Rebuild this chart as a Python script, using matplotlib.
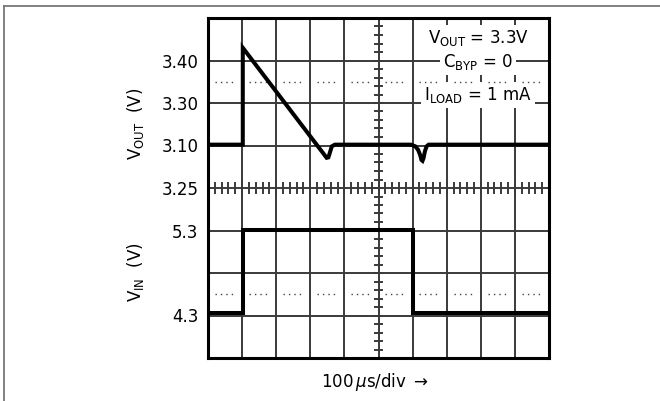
import numpy as np
import matplotlib
matplotlib.use('Agg')
import matplotlib.pyplot as plt
from matplotlib.lines import Line2D

# scope trace data, in divisions (x: 100 us/div, y: grid rows from bottom)
vout_t = [0, 1.02, 1.02, 3.48, 3.53, 3.57, 3.63, 3.72, 5.95, 6.08, 6.16, 6.22, 6.26, 6.29, 6.32, 6.36, 6.41, 6.47, 10]
vout_v = [5.02, 5.02, 7.30, 4.71, 4.72, 4.82, 4.98, 5.02, 5.02, 4.98, 4.90, 4.78, 4.66, 4.64, 4.70, 4.86, 4.98, 5.02, 5.02]
vin_t = [0, 1.02, 1.02, 6.02, 6.02, 10]
vin_v = [1.05, 1.05, 3.01, 3.01, 1.05, 1.05]

ytick_pos = [7, 6, 5, 4, 3, 1]
ytick_lab = ['3.40', '3.30', '3.10', '3.25', '5.3', '4.3']
dot_rows = [6.5, 1.5]

fig = plt.figure(figsize=(6.6, 4.01), dpi=100)
ax = fig.add_axes([208/660, (401-358)/401, 341/660, 340/401])
ax.set_xlim(0, 10)
ax.set_ylim(0, 8)

gc = '#3a3a3a'
for i in range(1, 10):
    ax.axvline(i, color=gc, lw=1.4, zorder=1)
for j in range(1, 8):
    ax.axhline(j, color=gc, lw=1.4, zorder=1)

# minor ticks on centre lines
for k in np.arange(0, 10.01, 0.2):
    ax.plot([k, k], [4 - 0.12, 4 + 0.12], color=gc, lw=1.4, zorder=1)
for k in np.arange(0, 8.01, 0.2):
    ax.plot([5 - 0.09, 5 + 0.09], [k, k], color=gc, lw=1.4, zorder=1)

# dotted reference rows
for r in dot_rows:
    for i in range(10):
        ax.plot([i + 0.2, i + 0.8], [r, r], color='#444444', lw=1.0,
                linestyle=(0, (1, 2.9)), zorder=4)

ax.plot(vout_t, vout_v, color='black', lw=2.9, zorder=5, solid_joinstyle='miter')
ax.plot(vin_t, vin_v, color='black', lw=2.9, zorder=5, solid_joinstyle='miter')

for s in ax.spines.values():
    s.set_linewidth(2.2)
    s.set_color('black')
ax.set_xticks([])
ax.set_yticks(ytick_pos)
ax.set_yticklabels(ytick_lab, fontsize=12)
ax.tick_params(axis='y', length=0, pad=7)

box = dict(facecolor='white', edgecolor='none', pad=2)
ax.text(7.92, 7.53, r'V$_{\mathrm{OUT}}$ = 3.3V', fontsize=12, ha='center', va='center',
        bbox=box, zorder=3)
ax.text(7.92, 6.96, r'C$_{\mathrm{BYP}}$ = 0', fontsize=12, ha='center', va='center',
        bbox=box, zorder=3)
ax.text(7.92, 6.19, r'I$_{\mathrm{LOAD}}$ = 1 mA', fontsize=12, ha='center', va='center',
        bbox=box, zorder=3)

ax.text(-2.14, 5.5, r'V$_{\mathrm{OUT}}$  (V)', fontsize=12, rotation=90,
        ha='center', va='center', clip_on=False)
ax.text(-2.14, 2.02, r'V$_{\mathrm{IN}}$  (V)', fontsize=12, rotation=90,
        ha='center', va='center', clip_on=False)
ax.text(4.9, -0.56, r'100$\,\mu$s/div $\rightarrow$', fontsize=12,
        ha='center', va='center', clip_on=False)

# outer figure frame (top and left)
fig.add_artist(Line2D([3.5/660, 1], [1 - 5.5/401, 1 - 5.5/401], color='#777777', lw=1.3))
fig.add_artist(Line2D([3.5/660, 3.5/660], [0, 1 - 5.5/401], color='#777777', lw=1.3))

fig.savefig('out.png', dpi=100)
